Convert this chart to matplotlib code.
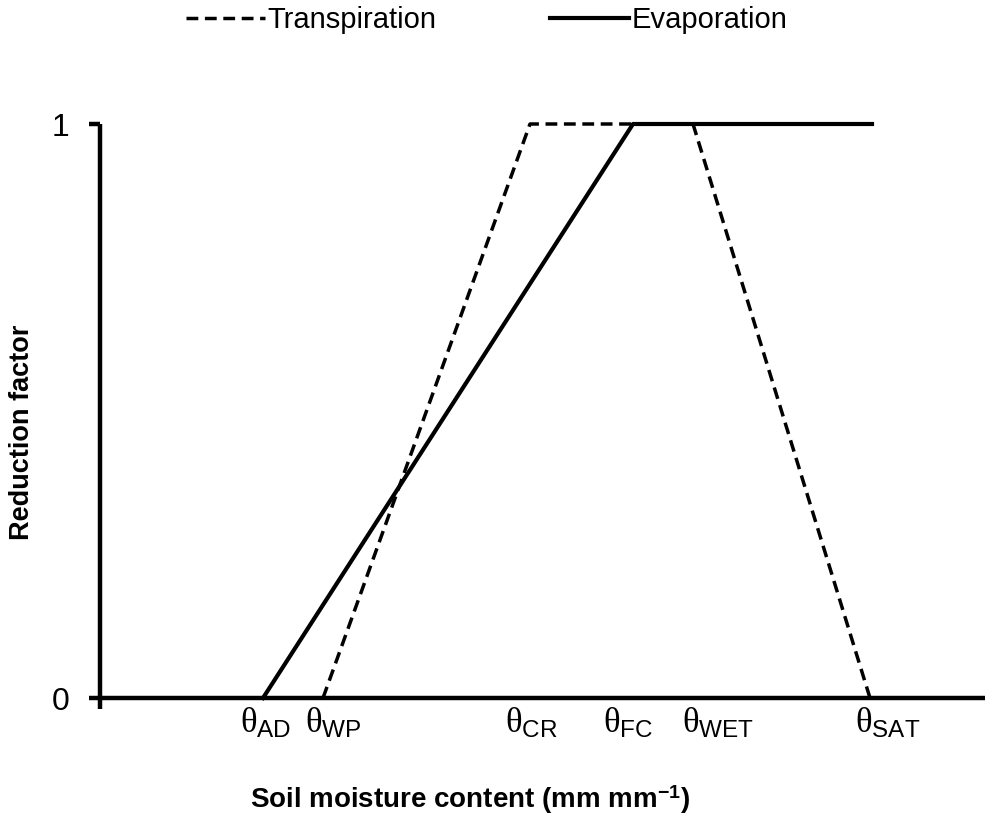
import matplotlib
matplotlib.use('Agg')
import matplotlib.pyplot as plt
from matplotlib.transforms import blended_transform_factory

plt.rcParams['font.family'] = ['Liberation Sans', 'DejaVu Sans']
plt.rcParams['mathtext.fontset'] = 'custom'
plt.rcParams['mathtext.rm'] = 'Liberation Sans'
plt.rcParams['mathtext.it'] = 'Liberation Serif'
plt.rcParams['mathtext.bf'] = 'Liberation Sans:bold'

# soil moisture thresholds (arbitrary units along the axis)
theta_names = ['AD', 'WP', 'CR', 'FC', 'WET', 'SAT']
theta_vals = [1.63, 2.23, 4.30, 5.33, 5.93, 7.70]
th = dict(zip(theta_names, theta_vals))

# reduction factor curves
transp_x = [th['WP'], th['CR'], th['WET'], th['SAT']]
transp_y = [0, 1, 1, 0]
evap_x = [th['AD'], th['FC'], 7.72]
evap_y = [0, 1, 1]

# where the theta labels start (left edge)
label_x = [1.40, 2.05, 4.05, 5.03, 5.82, 7.55]

fig = plt.figure(figsize=(9.85, 8.31), dpi=100)
ax = fig.add_axes([100/985, 133/831, 885/985, 574/831])

l1, = ax.plot(transp_x, transp_y, color='black', lw=2.5, linestyle=(0, (3.4, 1.9)),
              label='Transpiration', clip_on=False)
l2, = ax.plot(evap_x, evap_y, color='black', lw=3.0, label='Evaporation', clip_on=False)

ax.set_xlim(0, 8.85)
ax.set_ylim(0, 1)
ax.spines['top'].set_visible(False)
ax.spines['right'].set_visible(False)
ax.spines['left'].set_linewidth(3.2)
ax.spines['bottom'].set_linewidth(3.2)
ax.spines['left'].set_capstyle('butt')

ax.set_yticks([0, 1])
ax.set_yticklabels(['0', '1'], fontsize=23)
ax.tick_params(axis='y', length=8, width=3.2, pad=14)
ax.set_xticks([0])
ax.set_xticklabels([''])
ax.tick_params(axis='x', length=8, width=3.2)

trans = blended_transform_factory(ax.transData, ax.transAxes)
for name, x in zip(theta_names, label_x):
    ax.text(x, -0.014, r'$\theta_{\mathrm{%s}}$' % name, transform=trans,
            ha='left', va='top', fontsize=25)

fig.text(470/985, 1 - 800/831, r'Soil moisture content (mm mm$^{\mathbf{-1}}$)',
         ha='center', va='center', fontsize=20, fontweight='bold')
fig.text(22/985, 1 - 432/831, 'Reduction factor', rotation=90,
         ha='center', va='center', fontsize=19.5, fontweight='bold')

fig.legend(handles=[l1, l2], loc='center', bbox_to_anchor=(487/985, 1 - 20/831),
           ncol=2, frameon=False, fontsize=21, handlelength=2.7,
           handletextpad=0.1, columnspacing=3.9)

fig.savefig('out.png', dpi=100)
